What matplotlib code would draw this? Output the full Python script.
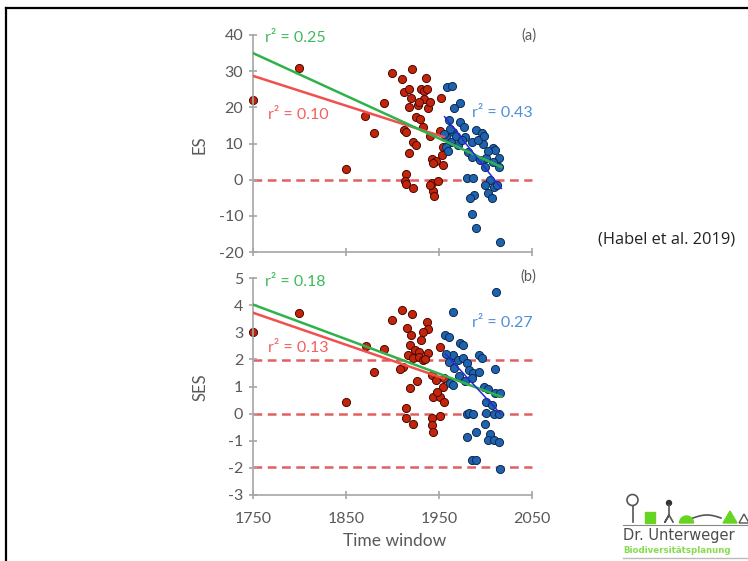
import matplotlib
matplotlib.use("Agg")
import matplotlib.pyplot as plt
from matplotlib.lines import Line2D
from matplotlib.patches import Circle, Rectangle, Wedge, Polygon
import numpy as np

plt.rcParams['font.family'] = ['Lato', 'DejaVu Sans']
plt.rcParams['axes.unicode_minus'] = False

# ---------------- data ----------------
# Panel (a): ES
red_es_x = [1750, 1800, 1850, 1870, 1880, 1891, 1900, 1910, 1921, 1936, 1912, 1918, 1931, 1934,
            1920, 1934, 1952, 1918, 1927, 1938, 1925, 1930, 1912, 1915, 1933, 1940, 1951, 1922,
            1925, 1918, 1954, 1953, 1942, 1947, 1954, 1944, 1915, 1913, 1915, 1922, 1942, 1949,
            1944, 1945, 1940, 1929, 1940, 1937]
red_es_y = [22, 31, 3, 17.5, 12.8, 21.3, 29.5, 27.7, 30.6, 28.2, 24.3, 25, 25, 24.5,
            22.5, 22.3, 22.6, 20.2, 20.6, 19.8, 17.4, 16.8, 13.7, 13.3, 14.6, 12, 13.5, 10.3,
            9.6, 7.3, 9.1, 6.8, 5.7, 5.2, 4, 4.5, 1.7, -0.5, -1.2, -2.2, -1, -0.4,
            -3, -4.5, -1.6, 21.6, 21.6, 25]
blue_es_x = [1959, 1964, 1973, 1966, 1961, 1973, 1977, 1965, 1958, 1963, 1978, 1985, 1990, 1996,
             1981, 1986, 1997, 2008, 2010, 2001, 2014, 2015, 1994, 2000, 2008, 1980, 1987, 2005,
             2000, 2009, 2012, 2003, 2007, 1988, 1983, 1985, 1990, 2016, 1958, 1968, 1970, 1962,
             1975, 1992, 1955, 1960, 2003, 1998]
blue_es_y = [25.7, 26, 21.1, 19.7, 16.5, 16, 14.6, 13.3, 11.9, 10.5, 11.9, 10.5, 13.7, 12.8,
             7.7, 6.4, 10, 8.7, 8.2, 5.9, 5.9, 3.6, 5.4, 3.6, 5, 0.4, 0.4, -0.1,
             -1.5, -2, -1.5, -3.8, -5.2, -4.2, -5.2, -9.6, -13.5, -17.2, 9, 12, 9.5, 14,
             11, 11, 12.5, 8, 8, 12]

# Panel (b): SES
red_ses_x = [1750, 1800, 1850, 1871, 1880, 1891, 1900, 1910, 1921, 1937, 1938, 1916, 1933, 1931,
             1920, 1919, 1924, 1928, 1938, 1917, 1922, 1929, 1933, 1911, 1951, 1942, 1947, 1955,
             1954, 1926, 1919, 1944, 1951, 1955, 1915, 1914, 1922, 1942, 1951, 1943, 1944, 1908,
             1935, 1948]
red_ses_y = [3.0, 3.7, 0.42, 2.5, 1.52, 2.4, 3.44, 3.83, 3.67, 3.38, 3.12, 3.14, 3.02, 2.71,
             2.9, 2.53, 2.35, 2.28, 2.22, 2.16, 2.04, 2.1, 1.98, 1.73, 2.47, 1.42, 1.24, 1.3,
             1.0, 1.22, 0.93, 0.62, 0.62, 0.44, 0.2, -0.17, -0.4, -0.17, -0.09, -0.42, -0.67, 1.65,
             2.0, 0.8]
blue_ses_x = [2011, 1965, 1956, 1961, 1973, 1976, 1993, 1996, 1965, 1970, 1976, 1980, 1961, 1966,
              1982, 1987, 1993, 2010, 1962, 1965, 1998, 2003, 2010, 2016, 2001, 2007, 1980, 1982,
              1987, 2001, 2009, 2014, 2000, 1990, 1980, 2005, 2003, 2009, 2014, 1985, 1990, 2016,
              1972, 1978, 1958, 1985]
blue_ses_y = [4.5, 3.76, 2.9, 2.84, 2.59, 2.53, 2.16, 2.04, 2.16, 1.98, 2.04, 1.86, 1.9, 1.7,
              1.6, 1.49, 1.55, 1.64, 1.12, 1.05, 0.99, 0.89, 0.75, 0.77, 0.44, 0.32, 0.0, 0.02,
              0.0, 0.03, 0.0, 0.0, -0.38, -0.67, -0.85, -0.75, -0.97, -0.97, -1.03, -1.71, -1.71, -2.05,
              1.4, 1.2, 2.2, 1.3]

# regression lines (endpoints)
es_green_x, es_green_y = [1750, 2017], [35.0, 3.5]
es_red_x, es_red_y = [1750, 1955], [28.7, 11.8]
es_blue_x, es_blue_y = [1956, 2017], [17.4, -2.4]
ses_green_x, ses_green_y = [1750, 2017], [4.02, 0.62]
ses_red_x, ses_red_y = [1750, 1955], [3.72, 1.3]
ses_blue_x, ses_blue_y = [1957, 2016], [2.2, 0.0]

es_ref = [0]
ses_ref = [1.96, 0, -1.96]

x_ticks = [1750, 1850, 1950, 2050]
es_ticks = [-20, -10, 0, 10, 20, 30, 40]
ses_ticks = [-3, -2, -1, 0, 1, 2, 3, 4, 5]

# ---------------- style ----------------
W, H = 748, 561
fig = plt.figure(figsize=(W / 100, H / 100), dpi=100)
fig.patch.set_facecolor('white')

GREEN_L, GREEN_T = '#2FB24A', '#3DBB5B'
RED_L, RED_T = '#F0504E', '#F26060'
BLUE_L, BLUE_T = '#2828DC', '#4F8FD8'
RED_P, RED_E = '#C3240C', '#4A0800'
BLUE_P, BLUE_E = '#1F63AD', '#0B2A55'
DASH = '#E06060'
GRAY = '#595959'
AXC = '#A6A6A6'


def px_axes(x0, y0, x1, y1):
    return fig.add_axes([x0 / W, 1 - y1 / H, (x1 - x0) / W, (y1 - y0) / H])


def style(ax, ylim, yticks):
    ax.set_xlim(1750, 2050)
    ax.set_ylim(*ylim)
    ax.set_xticks(x_ticks)
    ax.set_yticks(yticks)
    for s in ['top', 'right']:
        ax.spines[s].set_visible(False)
    for s in ['left', 'bottom']:
        ax.spines[s].set_color(AXC)
        ax.spines[s].set_linewidth(1.2)
    ax.tick_params(axis='both', direction='inout', length=6, width=1.2, color=AXC,
                   labelcolor=GRAY, labelsize=11.5)
    ax.tick_params(axis='y', pad=4)
    ax.tick_params(axis='x', pad=9)
    ax.set_facecolor('none')


ax1 = px_axes(253, 35, 532, 252)
ax2 = px_axes(253, 278, 532, 495)
style(ax1, (-20, 40), es_ticks)
style(ax2, (-3, 5), ses_ticks)
ax1.set_xticklabels([])

dash_style = (0, (3.5, 2.2))
for v in es_ref:
    ax1.plot([1750, 2050], [v, v], color=DASH, lw=1.8, ls=dash_style, zorder=1, clip_on=False)
for v in ses_ref:
    ax2.plot([1750, 2050], [v, v], color=DASH, lw=1.8, ls=dash_style, zorder=1, clip_on=False)

sc_kw = dict(s=34, linewidths=0.7, zorder=2, clip_on=False)
ax1.scatter(red_es_x, red_es_y, c=RED_P, edgecolors=RED_E, **sc_kw)
ax1.scatter(blue_es_x, blue_es_y, c=BLUE_P, edgecolors=BLUE_E, **sc_kw)
ax2.scatter(red_ses_x, red_ses_y, c=RED_P, edgecolors=RED_E, **sc_kw)
ax2.scatter(blue_ses_x, blue_ses_y, c=BLUE_P, edgecolors=BLUE_E, **sc_kw)

ax1.plot(es_red_x, es_red_y, color=RED_L, lw=1.8, zorder=3)
ax1.plot(es_green_x, es_green_y, color=GREEN_L, lw=1.8, zorder=4)
ax1.plot(es_blue_x, es_blue_y, color=BLUE_L, lw=1.1, zorder=5)
ax2.plot(ses_red_x, ses_red_y, color=RED_L, lw=1.8, zorder=3)
ax2.plot(ses_green_x, ses_green_y, color=GREEN_L, lw=1.8, zorder=4)
ax2.plot(ses_blue_x, ses_blue_y, color=BLUE_L, lw=1.1, zorder=5)

tkw = dict(fontsize=11.5, va='center', ha='left', clip_on=False, zorder=6)
ax1.text(1763, 39.3, 'r² = 0.25', color=GREEN_T, **tkw)
ax1.text(1766, 17.9, 'r² = 0.10', color=RED_T, **tkw)
ax1.text(1985, 18.3, 'r² = 0.43', color=BLUE_T, **tkw)
ax1.text(2055, 39.8, '(a)', color=GRAY, fontsize=10.5, ha='right', va='center')
ax2.text(1763, 4.86, 'r² = 0.18', color=GREEN_T, **tkw)
ax2.text(1766, 2.41, 'r² = 0.13', color=RED_T, **tkw)
ax2.text(1985, 3.33, 'r² = 0.27', color=BLUE_T, **tkw)
ax2.text(2055, 5.05, '(b)', color=GRAY, fontsize=10.5, ha='right', va='center')

fig.text(200 / W, 1 - 145 / H, 'ES', rotation=90, color=GRAY, fontsize=12, ha='center', va='center')
fig.text(200 / W, 1 - 387 / H, 'SES', rotation=90, color=GRAY, fontsize=12, ha='center', va='center')
fig.text(395 / W, 1 - 541 / H, 'Time window', color=GRAY, fontsize=12.5, ha='center', va='center')

fig.text(667 / W, 1 - 240 / H, '(Habel et al. 2019)', color='#222222', fontsize=11.8,
         ha='center', va='center', family=['Open Sans', 'DejaVu Sans'])

# slide frame
fig.add_artist(Line2D([6 / W, 6 / W], [0, 1 - 8 / H], color='black', lw=1.6, transform=fig.transFigure))
fig.add_artist(Line2D([6 / W, 1], [1 - 8 / H, 1 - 8 / H], color='black', lw=1.6, transform=fig.transFigure))

# logo
lg = px_axes(608, 488, 748, 561)
lg.set_xlim(608, 748)
lg.set_ylim(561, 488)
lg.axis('off')
LG = '#66D421'
lg.add_patch(Circle((632.5, 500), 5.5, fill=False, ec='#555555', lw=1.2))
lg.plot([632.5, 632.5], [505.5, 522], color='#555555', lw=1.2)
lg.add_patch(Rectangle((645, 512), 10, 11, color=LG))
lg.add_patch(Circle((669, 503), 2.5, color='#333333'))
lg.plot([669, 669, 665, 669, 673], [505, 515, 522, 515, 522], color='#555555', lw=1.2)
lg.add_patch(Wedge((686.5, 523), 7, 180, 360, color=LG))
xs = np.linspace(693, 721, 30)
lg.plot(xs, 518 - 3 * np.sin((xs - 693) / 28 * np.pi), color='#555555', lw=1.2)
lg.add_patch(Polygon([[723, 523], [730, 511], [737, 523]], color=LG))
lg.add_patch(Polygon([[739, 523], [744, 514], [749, 523]], fill=False, ec='#555555', lw=1.0))
lg.plot([623, 748], [524.5, 524.5], color='#888888', lw=0.8)
lg.text(623, 535, 'Dr. Unterweger', color='#4D4D4D', fontsize=10.5, va='center', ha='left',
        family=['DejaVu Sans'], clip_on=True)
lg.text(623, 550, 'Biodiversitätsplanung', color='#86DC4E', fontsize=6.2, fontweight='bold',
        va='center', ha='left', family=['DejaVu Sans'], clip_on=True)
lg.plot([623, 748], [558, 558], color='#BBBBBB', lw=1.0)

fig.savefig('out.png', dpi=100)
